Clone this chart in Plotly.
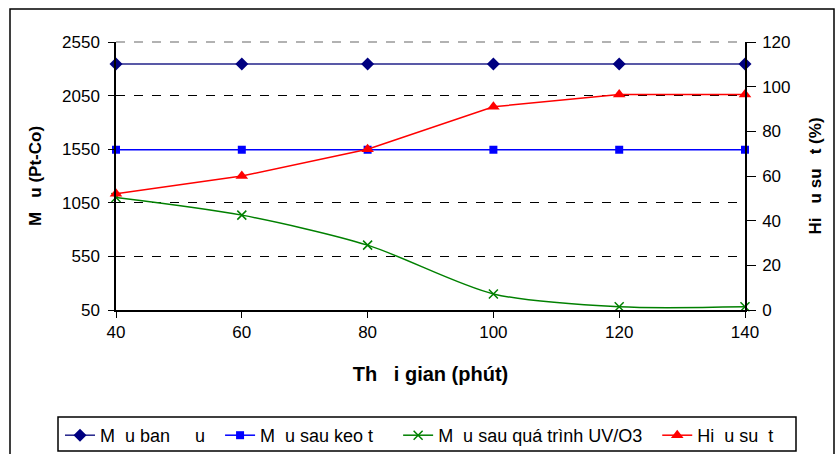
import plotly.graph_objects as go

NB = "\u00a0"
x_vals = [40, 60, 80, 100, 120, 140]
mau_ban_dau = [2345, 2345, 2345, 2345, 2345, 2345]
mau_sau_keo_tu = [1545, 1545, 1545, 1545, 1545, 1545]
mau_sau_uv = [1100, 935, 655, 200, 80, 80]
hieu_suat = [52, 60, 72, 91, 96.5, 96.5]

names = [
    f"M{NB*2}u ban{NB*5}u{NB*2}",
    f"M{NB*2}u sau keo t{NB*4}",
    f"M{NB*2}u sau quá trình UV/O3{NB*2}",
    f"Hi{NB*2}u su{NB*2}t",
]

FONT = "Arial, Liberation Sans, sans-serif"

fig = go.Figure()
fig.add_trace(go.Scatter(x=x_vals, y=mau_ban_dau, name=names[0], mode="lines+markers",
                         line=dict(color="#22228a", width=1.5),
                         marker=dict(symbol="diamond", size=10, color="#000080"), cliponaxis=False))
fig.add_trace(go.Scatter(x=x_vals, y=mau_sau_keo_tu, name=names[1], mode="lines+markers",
                         line=dict(color="#0000ff", width=1.5),
                         marker=dict(symbol="square", size=8, color="#0000ff"), cliponaxis=False))
fig.add_trace(go.Scatter(x=x_vals, y=mau_sau_uv, name=names[2], mode="lines+markers",
                         line=dict(color="#008000", width=1.5, shape="spline", smoothing=0.8),
                         marker=dict(symbol="x-thin", size=9, color="#008000",
                                     line=dict(color="#008000", width=1.5)), cliponaxis=False))
fig.add_trace(go.Scatter(x=x_vals, y=hieu_suat, name=names[3], mode="lines+markers", yaxis="y2",
                         line=dict(color="#ff0000", width=1.5),
                         marker=dict(symbol="triangle-up", size=11, color="#ff0000"), cliponaxis=False))

W, H = 835, 454
L, R, T, B = 116, 745, 42, 310

def px(p):
    return (p - L) / (R - L)

def py(q):
    return (B - q) / (B - T)

fig.update_layout(
    width=W, height=H,
    margin=dict(l=L, r=W - R, t=T, b=H - B, autoexpand=False),
    paper_bgcolor="white", plot_bgcolor="white",
    font=dict(family=FONT, size=17, color="black"),
    xaxis=dict(range=[40, 140], dtick=20, showgrid=False, zeroline=False, automargin=False,
               showline=True, linecolor="black", linewidth=1.5,
               ticks="outside", ticklen=6, tickcolor="black",
               tickfont=dict(size=17),
               title=dict(text=f"<b>Th{NB*3}i gian (phút)</b>", font=dict(size=20, family=FONT), standoff=26)),
    yaxis=dict(range=[50, 2550], tickvals=[50, 550, 1050, 1550, 2050, 2550], automargin=False,
               showgrid=True, gridcolor="black", griddash="dash", gridwidth=1,
               zeroline=False, showline=True, linecolor="black", linewidth=1.5,
               ticks="outside", ticklen=6, tickcolor="black", tickfont=dict(size=17),
               ticklabelstandoff=5,
               title=dict(text=f"<b>M{NB*3}u (Pt-Co)</b>", font=dict(size=17, family=FONT), standoff=16)),
    yaxis2=dict(range=[0, 120], dtick=20, overlaying="y", side="right", showgrid=False, automargin=False,
                zeroline=False, showline=True, linecolor="black", linewidth=1.5,
                ticks="outside", ticklen=9, tickcolor="black", tickfont=dict(size=17),
                ticklabelstandoff=3,
                title=dict(text=f"<b>Hi{NB*3}u su{NB*3}t (%)</b>", font=dict(size=17, family=FONT), standoff=20)),
    showlegend=True,
    legend=dict(orientation="h", x=px(60), y=py(417), xanchor="left", yanchor="top",
                borderwidth=0, bgcolor="rgba(0,0,0,0)",
                font=dict(size=18, family=FONT), itemwidth=30, tracegroupgap=0),
    shapes=[
        dict(type="line", xref="paper", yref="paper", x0=0, x1=1, y0=1, y1=1,
             line=dict(color="#999999", width=1.5, dash="dash"), layer="above"),
        dict(type="rect", xref="paper", yref="paper", x0=px(10), x1=px(834), y0=py(470), y1=py(9),
             line=dict(color="black", width=1.5), layer="below"),
        dict(type="rect", xref="paper", yref="paper", x0=px(58), x1=px(796), y0=py(451), y1=py(417),
             line=dict(color="black", width=1.5), layer="above"),
    ],
)

fig.write_html("out.html")
